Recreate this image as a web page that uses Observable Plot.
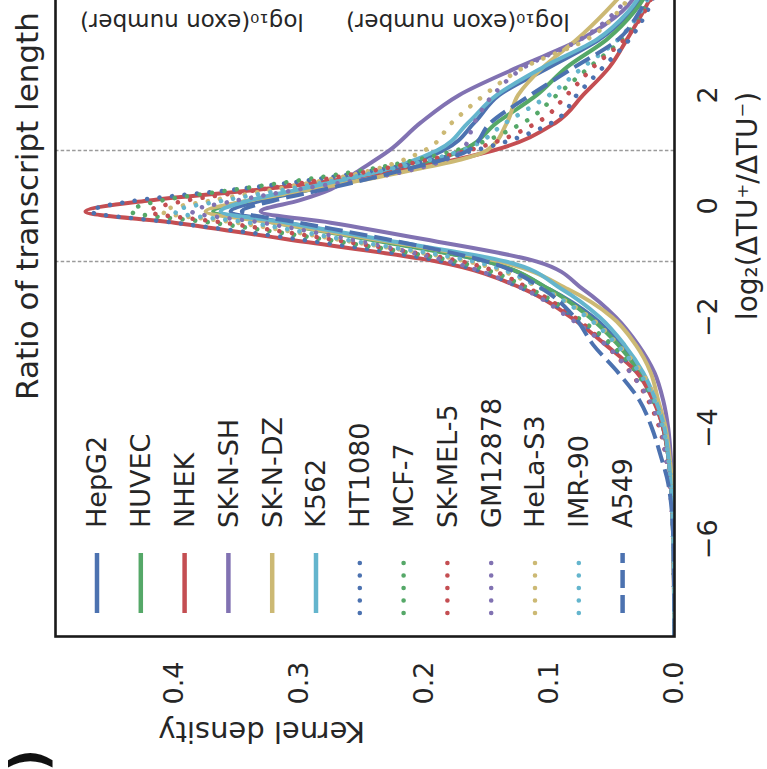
<!DOCTYPE html>
<html>
<head>
<meta charset="utf-8">
<script src="https://cdn.jsdelivr.net/npm/d3@7"></script>
<script src="https://cdn.jsdelivr.net/npm/@observablehq/plot@0.6"></script>
<style>
html,body{margin:0;padding:0;background:#fff;overflow:hidden}
#wrap{position:relative;width:767px;height:769px;overflow:hidden;background:#fff;font-family:"DejaVu Sans";color:#262626}
.extra{position:absolute;white-space:nowrap;font-family:"DejaVu Sans";color:#262626}
</style>
</head>
<body>
<div id="wrap"></div>
<script>
// ---------------- data ----------------
const cellLines = ["HepG2","HUVEC","NHEK","SK-N-SH","SK-N-DZ","K562","HT1080","MCF-7","SK-MEL-5","GM12878","HeLa-S3","IMR-90","A549"];
const xs = [-7.75,-6,-5,-4.5,-4,-3.5,-3,-2.5,-2,-1.5,-1,-0.6,-0.3,-0.1,0.1,0.3,0.6,1,1.5,2,2.5,3,3.5,4,5,6,7.75];
const HepG2   = [0,0.001,0.003,0.005,0.009,0.016,0.027,0.043,0.065,0.100,0.150,0.240,0.310,0.355,0.330,0.290,0.235,0.185,0.160,0.140,0.100,0.060,0.035,0.020,0.007,0.002,0];
const HUVEC   = [0,0.001,0.003,0.005,0.009,0.016,0.028,0.045,0.068,0.100,0.150,0.245,0.320,0.369,0.340,0.290,0.225,0.170,0.142,0.110,0.086,0.054,0.032,0.018,0.006,0.002,0];
const NHEK    = [0,0.001,0.003,0.005,0.009,0.017,0.030,0.055,0.083,0.120,0.190,0.310,0.400,0.471,0.420,0.330,0.230,0.145,0.095,0.073,0.052,0.038,0.025,0.014,0.005,0.001,0];
const SKNSH   = [0,0.001,0.002,0.003,0.005,0.009,0.016,0.029,0.047,0.073,0.110,0.200,0.275,0.331,0.300,0.275,0.255,0.228,0.203,0.172,0.125,0.075,0.042,0.025,0.008,0.002,0];
const SKNDZ   = [0,0.001,0.002,0.004,0.007,0.013,0.019,0.031,0.050,0.085,0.140,0.240,0.320,0.375,0.340,0.290,0.220,0.150,0.134,0.125,0.105,0.078,0.055,0.035,0.012,0.003,0];
const K562    = [0,0.001,0.003,0.005,0.008,0.015,0.025,0.040,0.060,0.090,0.135,0.235,0.310,0.363,0.340,0.300,0.240,0.190,0.165,0.142,0.105,0.062,0.037,0.022,0.007,0.002,0];
const HT1080  = [0,0.001,0.003,0.005,0.009,0.017,0.030,0.052,0.080,0.120,0.185,0.300,0.400,0.467,0.430,0.350,0.250,0.160,0.098,0.078,0.057,0.036,0.022,0.013,0.004,0.001,0];
const MCF7    = [0,0.001,0.003,0.006,0.010,0.018,0.030,0.050,0.078,0.115,0.175,0.280,0.370,0.435,0.410,0.350,0.260,0.175,0.121,0.094,0.068,0.042,0.026,0.015,0.005,0.001,0];
const SKMEL5  = [0,0.001,0.004,0.007,0.012,0.021,0.035,0.055,0.080,0.115,0.170,0.275,0.360,0.420,0.390,0.330,0.250,0.165,0.110,0.086,0.065,0.040,0.024,0.014,0.005,0.001,0];
const GM12878 = [0,0.001,0.004,0.007,0.011,0.020,0.035,0.055,0.085,0.120,0.180,0.260,0.330,0.386,0.350,0.300,0.220,0.170,0.160,0.145,0.120,0.075,0.047,0.030,0.010,0.002,0];
const HeLaS3  = [0,0.001,0.003,0.005,0.008,0.015,0.026,0.045,0.068,0.105,0.165,0.270,0.350,0.410,0.370,0.320,0.250,0.200,0.178,0.152,0.120,0.070,0.045,0.030,0.010,0.002,0];
const IMR90   = [0,0.001,0.003,0.005,0.009,0.016,0.028,0.046,0.070,0.105,0.160,0.265,0.340,0.400,0.360,0.310,0.240,0.170,0.135,0.100,0.073,0.045,0.027,0.016,0.005,0.001,0];
const A549    = [0,0.001,0.005,0.011,0.018,0.028,0.045,0.065,0.080,0.105,0.150,0.230,0.300,0.346,0.320,0.280,0.225,0.165,0.147,0.115,0.080,0.045,0.028,0.017,0.006,0.002,0];
const densities = [HepG2,HUVEC,NHEK,SKNSH,SKNDZ,K562,HT1080,MCF7,SKMEL5,GM12878,HeLaS3,IMR90,A549];
const xTicks = [-6,-4,-2,0,2];
const yTicks = [0,0.1,0.2,0.3,0.4];
const guideLines = [-1, 1];
const titleText = "Ratio of transcript length";
const xLabel = "log\u2082(\u0394TU\u207A/\u0394TU\u207B)";
const yLabel = "Kernel density";
const sideLabel = "log\u2081\u2080(exon number)";

// ---------------- styles ----------------
const palette = ["#4C72B0","#55A868","#C44E52","#8172B2","#CCB974","#64B5CD"];
const lineColors = cellLines.map((_, i) => i < 12 ? palette[i % 6] : palette[0]);
const lineKind = cellLines.map((_, i) => i < 6 ? "solid" : i < 12 ? "dotted" : "dashed");
const dashOf = k => k === "dotted" ? "0.01 12.5" : k === "dashed" ? "18 7" : null;
const capOf = k => k === "dotted" ? "round" : "butt";

const W = 769, H = 767; // un-rotated chart size

const rows = densities.map((arr, s) => xs.map((x, j) => ({x, d: arr[j], s})));
const fmtX = d => d < 0 ? "\u2212" + Math.abs(d) : String(d);

const lineMarks = rows.map((r, s) => Plot.line(r, {
  x: "x", y: "d", stroke: lineColors[s], strokeWidth: lineKind[s] === "dotted" ? 4.6 : 4,
  strokeDasharray: dashOf(lineKind[s]), strokeLinecap: capOf(lineKind[s]),
  curve: "monotone-x", clip: true
}));

const chart = Plot.plot({
  width: W, height: H,
  marginTop: 55, marginBottom: 93, marginLeft: 132, marginRight: -224,
  style: {fontFamily: "DejaVu Sans", fontSize: "27px", color: "#262626", background: "white", overflow: "hidden"},
  x: {domain: [-7.75, 7.75], ticks: xTicks, tickFormat: fmtX, tickSize: 0, tickPadding: 23, label: null},
  y: {domain: [0, 0.495], ticks: yTicks, tickFormat: d3.format(".1f"), tickSize: 0, tickPadding: 25, label: null},
  marks: [
    Plot.ruleX(guideLines, {stroke: "#9a9a9a", strokeWidth: 1.4, strokeDasharray: "3.5 2.2"}),
    ...lineMarks,
    Plot.frame({stroke: "#1a1a1a", strokeWidth: 2.6}),
    Plot.text([titleText], {text: d => d, frameAnchor: "top", dy: -27, lineAnchor: "middle", fontSize: 31}),
    Plot.text([xLabel], {text: d => d, frameAnchor: "bottom", dy: 74, lineAnchor: "middle", fontSize: 28}),
    Plot.text([yLabel], {text: d => d, frameAnchor: "left", dx: -95, rotate: -90, lineAnchor: "middle", fontSize: 29})
  ]
});

// legend (layout inside the un-rotated chart)
const lg = d3.select(chart).append("g").attr("class", "legend").attr("text-anchor", "start");
cellLines.forEach((name, i) => {
  const v = 97 + 43.8 * i;
  const ln = lg.append("line").attr("x1", 156).attr("x2", 216).attr("y1", v).attr("y2", v)
    .attr("stroke", lineColors[i]).attr("stroke-width", lineKind[i] === "dotted" ? 4.6 : 4.5)
    .attr("stroke-linecap", capOf(lineKind[i]));
  if (dashOf(lineKind[i])) ln.attr("stroke-dasharray", dashOf(lineKind[i]));
  lg.append("text").attr("x", 241).attr("y", v).attr("dy", "0.35em")
    .attr("text-anchor", "start")
    .attr("font-size", 27).attr("fill", "#262626").text(name);
});

// rotate the whole chart 90° counter-clockwise
chart.style.position = "absolute";
chart.style.left = "0px";
chart.style.top = "0px";
chart.style.maxWidth = "none";
chart.style.width = W + "px";
chart.style.height = H + "px";
chart.style.transformOrigin = "0 0";
chart.style.transform = "translate(0px, 769px) rotate(-90deg)";

const wrap = document.getElementById("wrap");
wrap.appendChild(chart);

// fragments of neighbouring panels visible in the crop
[80, 346].forEach(left => {
  const s = document.createElement("div");
  s.className = "extra";
  s.textContent = sideLabel;
  s.style.left = left + "px";
  s.style.top = "8px";
  s.style.fontSize = "23px";
  s.style.lineHeight = "28px";
  s.style.transform = "rotate(180deg)";
  wrap.appendChild(s);
});
const p = document.createElement("div");
p.className = "extra";
p.textContent = ")";
p.style.left = "18px";
p.style.top = "735px";
p.style.fontSize = "50px";
p.style.lineHeight = "50px";
p.style.fontWeight = "bold";
p.style.color = "#111";
p.style.transform = "rotate(-90deg)";
wrap.appendChild(p);
</script>
</body>
</html>
